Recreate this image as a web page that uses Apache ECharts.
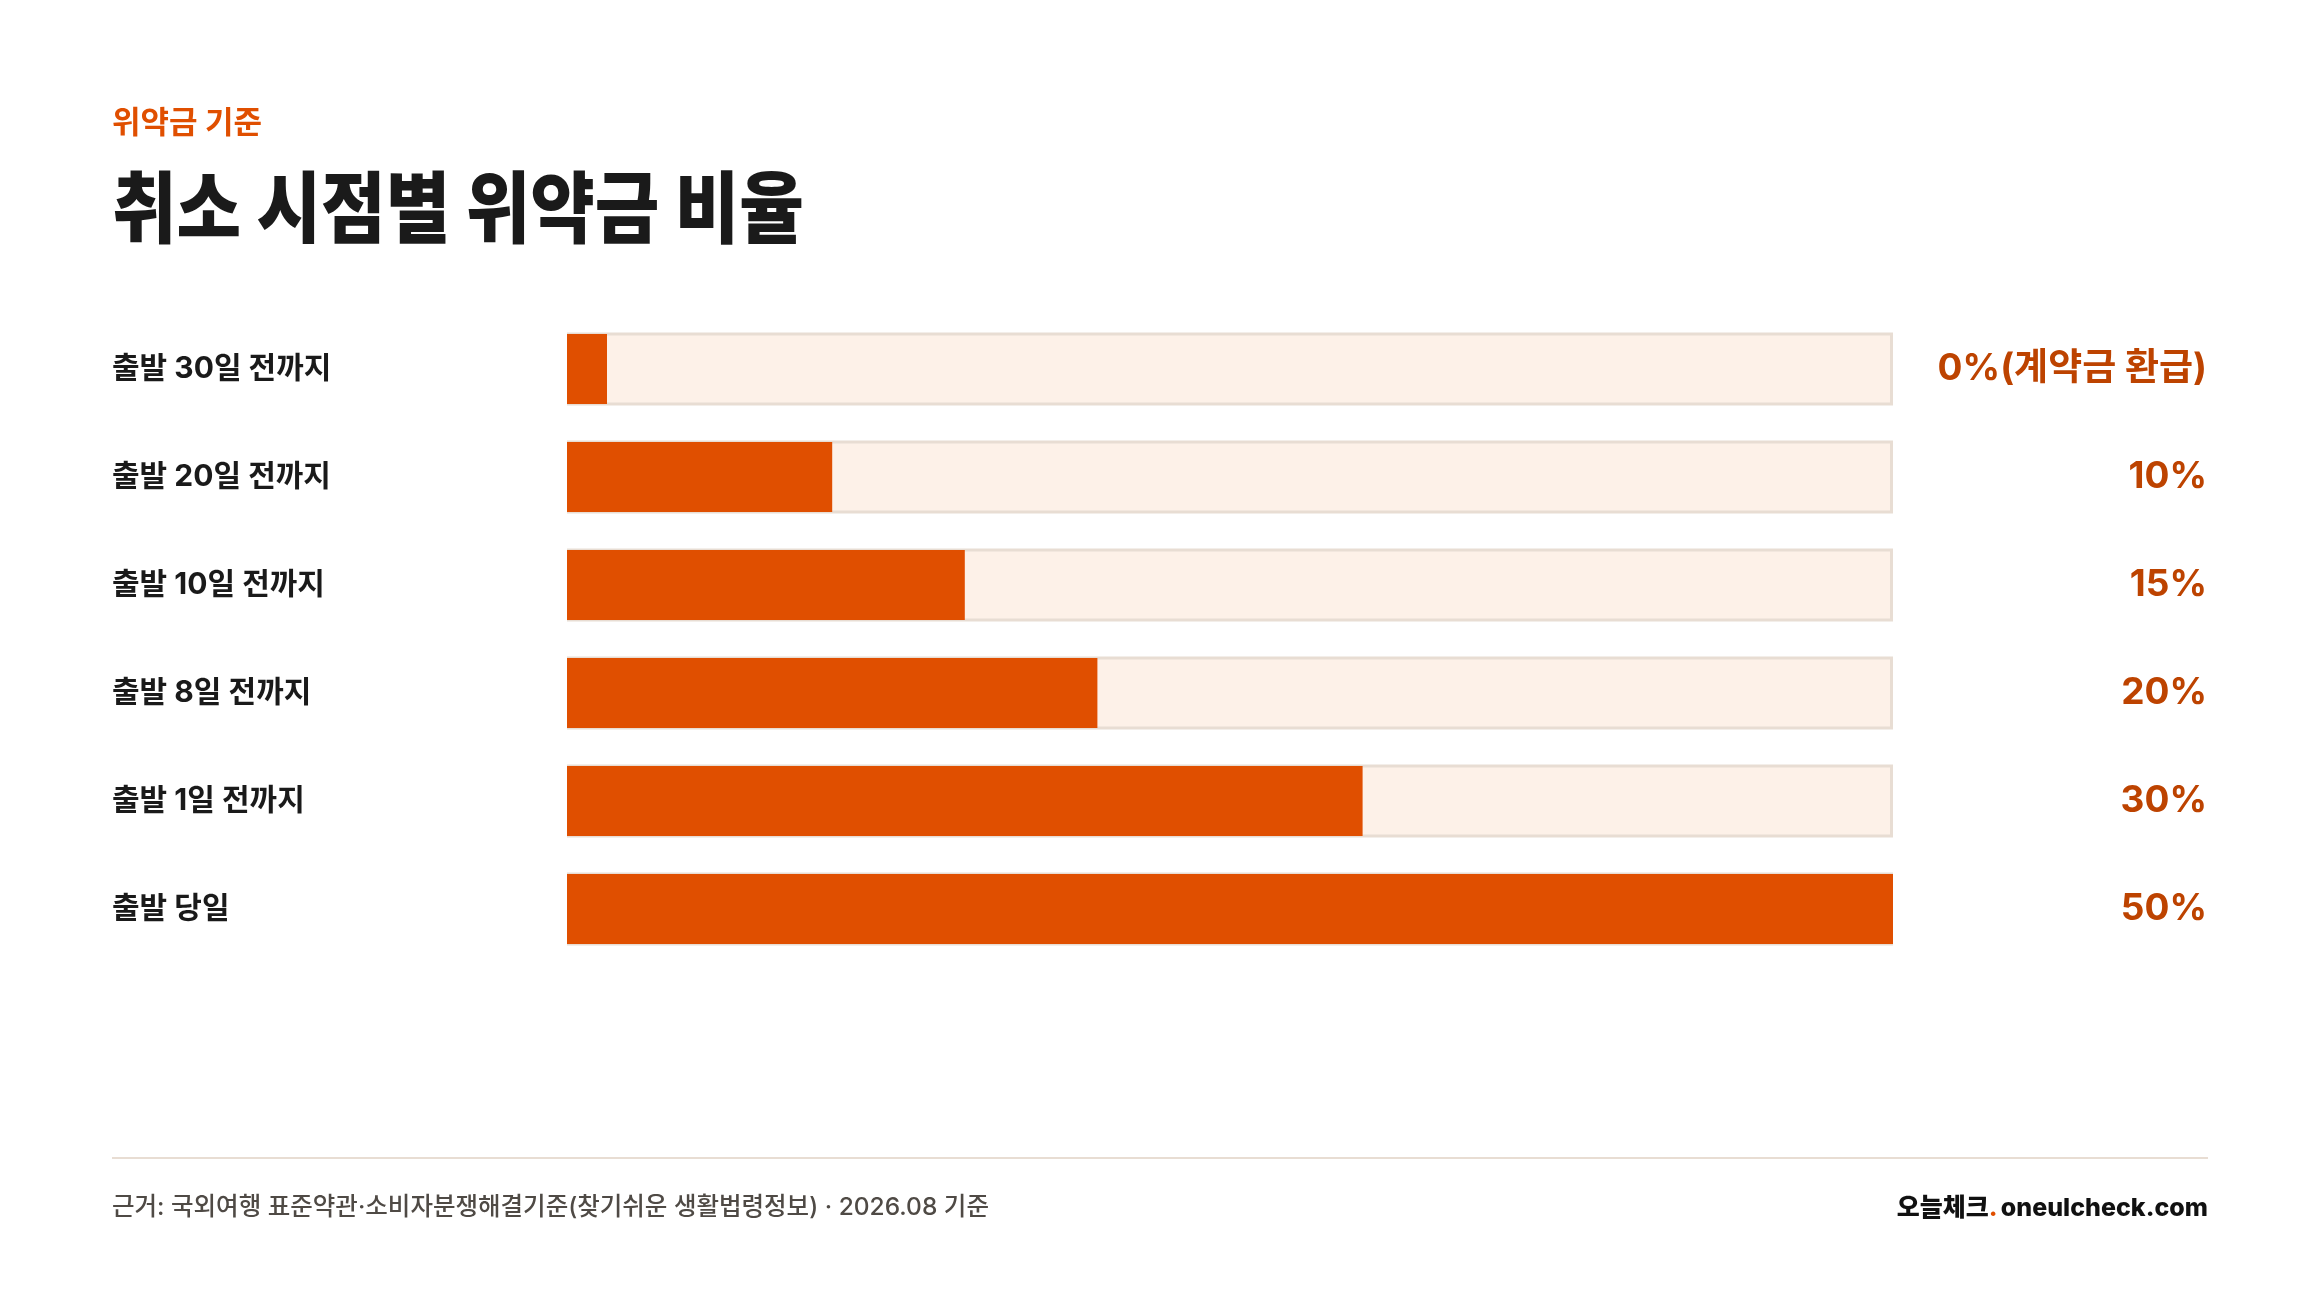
<!DOCTYPE html>
<html lang="ko">
<head>
<meta charset="utf-8">
<title>취소 시점별 위약금 비율</title>
<script src="https://cdn.jsdelivr.net/npm/echarts@6/dist/echarts.min.js"></script>
<style>
  html, body { margin: 0; padding: 0; background: #fff; }
  #chart { width: 2320px; height: 1302px; }
</style>
</head>
<body>
<div id="chart"></div>
<script>
const categories = ['출발 30일 전까지', '출발 20일 전까지', '출발 10일 전까지', '출발 8일 전까지', '출발 1일 전까지', '출발 당일']
const penaltyRates = [0, 10, 15, 20, 30, 50]
const rateLabels = ['0%(계약금 환급)', '10%', '15%', '20%', '30%', '50%']
const axisMax = 50

const FONT = 'Inter, "Noto Sans CJK KR", sans-serif'
const ORANGE = '#E04F00'
const BROWN = '#BD4300'

const myChart = echarts.init(document.getElementById('chart'))

myChart.setOption({
  backgroundColor: '#ffffff',
  animation: false,
  grid: { left: 567, right: 427, top: 315, bottom: 339, outerBoundsMode: 'none' },
  xAxis: { type: 'value', min: 0, max: axisMax, show: false },
  yAxis: [
    {
      type: 'category',
      data: categories,
      inverse: true,
      axisLine: { show: false },
      axisTick: { show: false },
      axisLabel: {
        align: 'left',
        margin: 455,
        padding: [10, 0, 0, 0],
        fontFamily: FONT,
        fontSize: 30,
        fontWeight: 700,
        color: '#1a1a1a'
      }
    },
    {
      type: 'category',
      data: categories,
      inverse: true,
      position: 'right',
      axisLine: { show: false },
      axisTick: { show: false },
      axisLabel: {
        align: 'right',
        margin: 314,
        padding: [10, 0, 0, 0],
        fontFamily: FONT,
        fontSize: 37,
        fontWeight: 700,
        color: BROWN,
        formatter: (v, i) => rateLabels[i]
      }
    }
  ],
  series: [
    {
      // 배경 트랙
      type: 'bar',
      yAxisIndex: 1,
      barWidth: 73,
      silent: true,
      data: categories.map(() => axisMax),
      itemStyle: { color: '#FDF1E8', borderColor: '#E8DDD3', borderWidth: 3 },
      z: 1
    },
    {
      type: 'bar',
      yAxisIndex: 0,
      barWidth: 70,
      barMinHeight: 40,
      data: penaltyRates,
      itemStyle: { color: ORANGE },
      z: 2
    }
  ],
  graphic: [
    {
      type: 'text', x: 112, y: 124,
      style: { text: '위약금 기준', font: '700 31px ' + FONT, fill: ORANGE, verticalAlign: 'middle' }
    },
    {
      type: 'text', x: 112, y: 214, scaleX: 0.9,
      style: { text: '취소 시점별 위약금 비율', font: '800 78px ' + FONT, fill: '#1a1a1a', verticalAlign: 'middle' }
    },
    {
      type: 'line',
      shape: { x1: 112, y1: 1158, x2: 2208, y2: 1158 },
      style: { stroke: '#E8DDD3', lineWidth: 2 }
    },
    {
      type: 'text', x: 112, y: 1208,
      style: {
        text: '근거: 국외여행 표준약관·소비자분쟁해결기준(찾기쉬운 생활법령정보) · 2026.08 기준',
        font: '500 24.5px ' + FONT, fill: '#4f4a45', verticalAlign: 'middle'
      }
    },
    {
      type: 'text', x: 2208, y: 1208,
      style: {
        text: '{k|오늘체크}{d|.} {u|oneulcheck.com}',
        align: 'right',
        verticalAlign: 'middle',
        rich: {
          k: { font: '800 25px ' + FONT, fill: '#111' },
          d: { font: '800 25px ' + FONT, fill: ORANGE },
          u: { font: '800 25px ' + FONT, fill: '#111' }
        }
      }
    }
  ]
})
</script>
</body>
</html>
